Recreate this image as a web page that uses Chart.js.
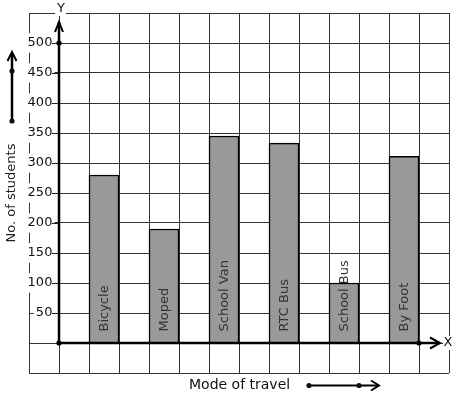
<!DOCTYPE html>
<html>
<head>
<meta charset="utf-8">
<script src="https://cdn.jsdelivr.net/npm/chart.js@4.4.1/dist/chart.umd.min.js"></script>
<style>
body { margin: 0; background: #fff; }
#wrap { width: 457px; height: 399px; position: relative; }
</style>
</head>
<body>
<div id="wrap"><canvas id="chart_travel"></canvas></div>
<script>
// Chart data
var modes = ["Bicycle", "Moped", "School Van", "RTC Bus", "School Bus", "By Foot"];
var students = [280, 190, 345, 333, 100, 311];
var yLabels = [50, 100, 150, 200, 250, 300, 350, 400, 450, 500];

var FONT = "'DejaVu Sans', sans-serif";

// bars sit in every second grid cell right of the Y axis
var points = modes.map(function(m, i) {
    return { x: 1.5 + 2 * i, y: students[i] };
});

function arrowHead(ctx, tx, ty, dx, dy, len, half) {
    // open chevron pointing in direction (dx, dy)
    var px = -dy, py = dx;
    ctx.beginPath();
    ctx.moveTo(tx - dx * len + px * half, ty - dy * len + py * half);
    ctx.lineTo(tx, ty);
    ctx.lineTo(tx - dx * len - px * half, ty - dy * len - py * half);
    ctx.stroke();
}

function dot(ctx, x, y) {
    ctx.beginPath();
    ctx.arc(x, y, 2.6, 0, Math.PI * 2);
    ctx.fill();
}

var decor = {
    id: 'decor',
    afterDatasetsDraw: function(chart) {
        var ctx = chart.ctx;
        var xs = chart.scales.x, ys = chart.scales.y;
        var x0 = xs.getPixelForValue(0), y0 = ys.getPixelForValue(0);

        ctx.save();

        // labels written up the bars
        var meta = chart.getDatasetMeta(0);
        ctx.fillStyle = '#333';
        ctx.font = '13px ' + FONT;
        ctx.textAlign = 'left';
        ctx.textBaseline = 'middle';
        meta.data.forEach(function(bar, i) {
            ctx.save();
            ctx.translate(bar.x + 0.5, bar.base - 11);
            ctx.rotate(-Math.PI / 2);
            ctx.fillText(modes[i], 0, 0);
            ctx.restore();
        });

        // small tick marks left of the Y axis
        ctx.strokeStyle = '#222';
        ctx.lineWidth = 1;
        yLabels.forEach(function(v) {
            var py = Math.round(ys.getPixelForValue(v)) + 0.5;
            ctx.beginPath();
            ctx.moveTo(x0 - 7, py);
            ctx.lineTo(x0, py);
            ctx.stroke();
        });

        // thick axes with arrows
        var yTop = ys.getPixelForValue(535);
        var xEnd = xs.getPixelForValue(12.7);
        ctx.strokeStyle = '#000';
        ctx.fillStyle = '#000';
        ctx.lineWidth = 2.5;
        ctx.beginPath();
        ctx.moveTo(x0, y0);
        ctx.lineTo(x0, yTop);
        ctx.moveTo(x0, y0);
        ctx.lineTo(xEnd, y0);
        ctx.stroke();
        ctx.lineWidth = 2;
        arrowHead(ctx, x0, yTop, 0, -1, 10, 4);
        arrowHead(ctx, xEnd, y0, 1, 0, 10, 5.5);
        dot(ctx, x0, y0);
        dot(ctx, x0, ys.getPixelForValue(500));
        dot(ctx, xs.getPixelForValue(12), y0);

        // axis letters
        ctx.font = '13px ' + FONT;
        ctx.textAlign = 'center';
        ctx.textBaseline = 'middle';
        ctx.fillStyle = '#fff';
        ctx.fillRect(x0 - 4, 2, 11, 14);
        ctx.fillRect(chart.chartArea.right - 6, y0 - 7, 12, 14);
        ctx.fillStyle = '#111';
        ctx.fillText('Y', x0 + 2, 9);
        ctx.fillText('X', chart.chartArea.right - 1, y0);

        // y title with arrow
        ctx.save();
        ctx.translate(12, 193);
        ctx.rotate(-Math.PI / 2);
        ctx.fillStyle = '#222';
        ctx.font = '13px ' + FONT;
        ctx.fillText('No. of students', 0, 0);
        ctx.restore();
        ctx.lineWidth = 2.5;
        ctx.beginPath();
        ctx.moveTo(12, 121);
        ctx.lineTo(12, 53);
        ctx.stroke();
        ctx.lineWidth = 2;
        arrowHead(ctx, 12, 52, 0, -1, 9, 4.5);
        dot(ctx, 12, 121);
        dot(ctx, 12, 71);

        // x title with arrow
        ctx.fillStyle = '#111';
        ctx.font = '14px ' + FONT;
        ctx.textAlign = 'left';
        ctx.fillText('Mode of travel', 189, 385);
        ctx.lineWidth = 2;
        ctx.beginPath();
        ctx.moveTo(309, 385.5);
        ctx.lineTo(378, 385.5);
        ctx.stroke();
        arrowHead(ctx, 379, 385.5, 1, 0, 8, 5);
        dot(ctx, 309, 385.5);
        dot(ctx, 359, 385.5);

        ctx.restore();
    }
};

// Draw Chart
var elChart = document.getElementById('chart_travel');
var objChart = new Chart(elChart, {
    type: 'bar',
    data: {
        datasets: [{
            label: 'No. of students',
            data: points,
            backgroundColor: '#999999',
            borderColor: '#000',
            borderWidth: 1.5,
            borderSkipped: 'start',
            categoryPercentage: 1,
            barPercentage: 1
        }]
    },
    options: {
        responsive: true,
        maintainAspectRatio: false,
        animation: false,
        layout: { padding: { left: 29, right: 8, top: 13, bottom: 26 } },
        plugins: {
            legend: { display: false },
            tooltip: { enabled: false }
        },
        scales: {
            x: {
                type: 'linear',
                position: { y: 0 },
                min: -1,
                max: 13,
                offset: false,
                ticks: { display: false, stepSize: 1 },
                grid: { color: '#333', lineWidth: 1, drawTicks: false, offset: false },
                border: { display: false }
            },
            y: {
                type: 'linear',
                // labels are right-aligned at this spot, a tick length left of x = 0
                position: { x: -0.22 },
                min: -50,
                max: 550,
                ticks: {
                    stepSize: 50,
                    color: '#111',
                    font: { family: FONT, size: 13 },
                    callback: function(v) { return yLabels.indexOf(v) >= 0 ? String(v) : ''; },
                    showLabelBackdrop: function(c) { return yLabels.indexOf(c.tick.value) >= 0; },
                    backdropColor: '#fff',
                    backdropPadding: 2
                },
                grid: { color: '#333', lineWidth: 1, drawTicks: false },
                border: { display: false }
            }
        }
    },
    plugins: [decor]
});
</script>
</body>
</html>
